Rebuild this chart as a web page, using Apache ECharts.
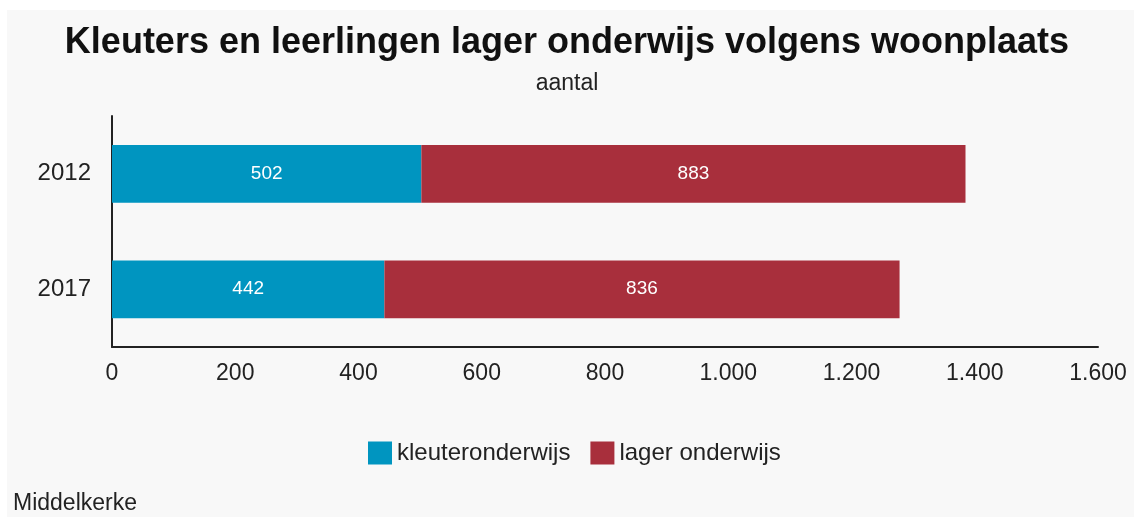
<!DOCTYPE html>
<html>
<head>
<meta charset="utf-8">
<script src="https://cdn.jsdelivr.net/npm/echarts@6/dist/echarts.min.js"></script>
<style>
  html, body { margin: 0; padding: 0; background: #ffffff; }
  #chart { width: 1134px; height: 517px; }
</style>
</head>
<body>
<div id="chart"></div>
<script>
// Years shown on the category axis
const years = ['2012', '2017'];
// Number of pupils per level of education
const kleuteronderwijs = [502, 442];
const lagerOnderwijs = [883, 836];
// Value axis
const axisMax = 1600;
const axisStep = 200;

const font = '"Liberation Sans", Arial, sans-serif';
const chart = echarts.init(document.getElementById('chart'));

// Dutch thousands separator
function fmt(v) {
  return String(v).replace(/\B(?=(\d{3})+(?!\d))/g, '.');
}

chart.setOption({
  backgroundColor: '#ffffff',
  animation: false,
  graphic: [{
    type: 'rect',
    z: -10,
    silent: true,
    shape: { x: 7, y: 10, width: 1127, height: 507 },
    style: { fill: '#f8f8f8' }
  }],
  title: [{
    text: 'Kleuters en leerlingen lager onderwijs volgens woonplaats',
    left: 'center',
    top: 20,
    textStyle: { fontFamily: font, fontSize: 36, fontWeight: 'bold', color: '#111111' }
  }, {
    text: 'aantal',
    left: 'center',
    top: 67,
    textStyle: { fontFamily: font, fontSize: 23, fontWeight: 'normal', color: '#222222' }
  }, {
    text: 'Middelkerke',
    left: 8,
    top: 487,
    textStyle: { fontFamily: font, fontSize: 23, fontWeight: 'normal', color: '#222222' }
  }],
  legend: {
    top: 436,
    left: 363,
    itemWidth: 24,
    itemHeight: 23,
    itemGap: 20,
    icon: 'rect',
    textStyle: { fontFamily: font, fontSize: 24, color: '#222222' },
    data: ['kleuteronderwijs', 'lager onderwijs']
  },
  grid: { left: 112, right: 36, top: 116, bottom: 170, containLabel: false },
  xAxis: {
    type: 'value',
    min: 0,
    max: axisMax,
    interval: axisStep,
    axisLine: { show: true, lineStyle: { color: '#222222', width: 2 } },
    axisTick: { show: false },
    splitLine: { show: false },
    axisLabel: {
      fontFamily: font, fontSize: 23, color: '#222222', margin: 15,
      formatter: fmt
    }
  },
  yAxis: {
    type: 'category',
    inverse: true,
    data: years,
    axisLine: { show: true, lineStyle: { color: '#222222', width: 2 } },
    axisTick: { show: false },
    axisLabel: { fontFamily: font, fontSize: 24, color: '#222222', margin: 21 }
  },
  series: [{
    name: 'kleuteronderwijs',
    type: 'bar',
    stack: 'total',
    barWidth: '50%',
    data: kleuteronderwijs,
    itemStyle: { color: '#0095c0' },
    label: { show: true, position: 'inside', color: '#ffffff', fontFamily: font, fontSize: 19 }
  }, {
    name: 'lager onderwijs',
    type: 'bar',
    stack: 'total',
    barWidth: '50%',
    data: lagerOnderwijs,
    itemStyle: { color: '#a82f3c' },
    label: { show: true, position: 'inside', color: '#ffffff', fontFamily: font, fontSize: 19 }
  }]
});
</script>
</body>
</html>
